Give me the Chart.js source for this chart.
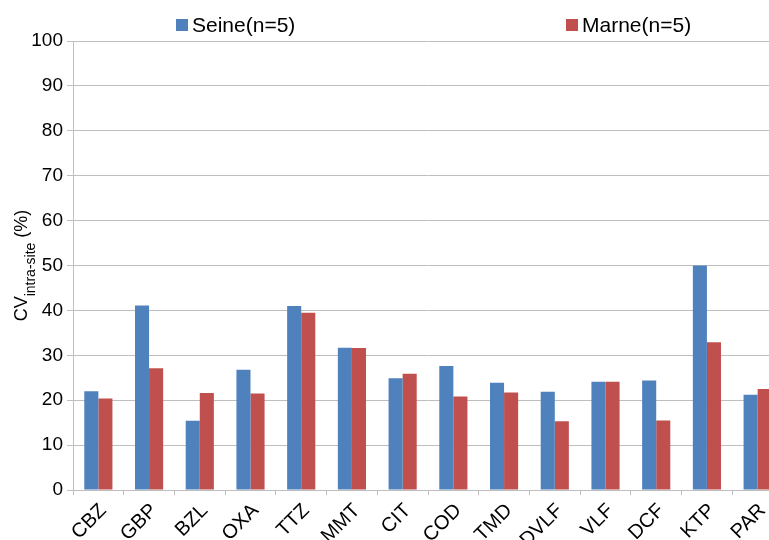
<!DOCTYPE html>
<html>
<head>
<meta charset="utf-8">
<script src="https://cdn.jsdelivr.net/npm/chart.js@4/dist/chart.umd.min.js"></script>
<style>
  html, body { margin: 0; padding: 0; overflow: hidden; background: #fff; }
  #wrap { position: relative; width: 790px; height: 540px; }
  #legend { position: absolute; top: 0; left: 0; width: 100%; height: 40px; font-family: "Liberation Sans", Arial, sans-serif; font-size: 21px; color: #000; }
  .item { position: absolute; top: 13px; display: flex; align-items: center; white-space: nowrap; }
  .box { width: 12px; height: 12px; margin-right: 4px; }
</style>
</head>
<body>
<div id="wrap">
  <canvas id="chart" width="790" height="540"></canvas>
  <div id="legend"></div>
</div>
<script>
const categories = ["CBZ", "GBP", "BZL", "OXA", "TTZ", "MMT", "CIT", "COD", "TMD", "DVLF", "VLF", "DCF", "KTP", "PAR"];
const seine = [22.0, 41.1, 15.4, 26.8, 41.0, 31.7, 24.9, 27.6, 23.9, 21.9, 24.1, 24.4, 50.0, 21.2];
const marne = [20.4, 27.1, 21.6, 21.5, 39.5, 31.6, 25.9, 20.8, 21.7, 15.3, 24.1, 15.5, 32.9, 22.5];
const seriesNames = ["Seine(n=5)", "Marne(n=5)"];
const yTicks = [0, 10, 20, 30, 40, 50, 60, 70, 80, 90, 100];

const FONT = '"Liberation Sans", Arial, sans-serif';
const gridColor = '#bebebe';

// legend items spread over the top like the Excel original
const legendLefts = [176, 566];
const htmlLegend = {
    id: 'htmlLegend',
    afterUpdate(chart) {
        const el = document.getElementById('legend');
        el.innerHTML = '';
        chart.data.datasets.forEach((ds, i) => {
            const item = document.createElement('div');
            item.className = 'item';
            item.style.left = legendLefts[i] + 'px';
            const box = document.createElement('span');
            box.className = 'box';
            box.style.background = ds.backgroundColor;
            const txt = document.createElement('span');
            txt.textContent = ds.label;
            item.appendChild(box);
            item.appendChild(txt);
            el.appendChild(item);
        });
    }
};

// y axis title with subscript: CV(intra-site) (%)
const yTitle = {
    id: 'yTitle',
    afterDraw(chart) {
        const { ctx, chartArea } = chart;
        const cy = (chartArea.top + chartArea.bottom) / 2;
        const main = '18px ' + FONT, sub = '14px ' + FONT;
        ctx.save();
        ctx.font = main;
        const w1 = ctx.measureText('CV').width;
        const w3 = ctx.measureText(' (%)').width;
        ctx.font = sub;
        const w2 = ctx.measureText('intra-site').width;
        const total = w1 + w2 + w3;
        ctx.translate(27, cy);
        ctx.rotate(-Math.PI / 2);
        ctx.fillStyle = '#000';
        ctx.textBaseline = 'alphabetic';
        let x = -total / 2;
        ctx.font = main;
        ctx.fillText('CV', x, 0);
        x += w1;
        ctx.font = sub;
        ctx.fillText('intra-site', x, 8);
        x += w2;
        ctx.font = main;
        ctx.fillText(' (%)', x, 0);
        ctx.restore();
    }
};

new Chart(document.getElementById('chart'), {
    type: 'bar',
    data: {
        labels: categories,
        datasets: [{
            label: seriesNames[0],
            data: seine,
            backgroundColor: '#4f81bd'
        }, {
            label: seriesNames[1],
            data: marne,
            backgroundColor: '#c0504d'
        }]
    },
    options: {
        responsive: false,
        animation: false,
        devicePixelRatio: 1,
        layout: { padding: { top: 41, right: 7, left: 0, bottom: 0 } },
        datasets: {
            bar: { categoryPercentage: 0.555, barPercentage: 1.0 }
        },
        scales: {
            x: {
                grid: { display: true, drawOnChartArea: false, drawTicks: true, tickLength: 5, color: gridColor, offset: true },
                border: { color: gridColor },
                ticks: {
                    autoSkip: false,
                    minRotation: 45,
                    maxRotation: 45,
                    color: '#000',
                    padding: 4,
                    labelOffset: 5,
                    font: { family: FONT, size: 20 }
                },
                afterFit(scale) { scale.height = 50; }
            },
            y: {
                min: 0,
                max: 100,
                afterBuildTicks(scale) { scale.ticks = yTicks.map(v => ({ value: v })); },
                grid: { color: gridColor, tickLength: 6 },
                border: { color: gridColor },
                ticks: {
                    color: '#000',
                    padding: 4,
                    font: { family: FONT, size: 19 }
                },
                afterFit(scale) { scale.width = 73; }
            }
        },
        plugins: {
            legend: { display: false },
            tooltip: { enabled: false }
        }
    },
    plugins: [htmlLegend, yTitle]
});
</script>
</body>
</html>
